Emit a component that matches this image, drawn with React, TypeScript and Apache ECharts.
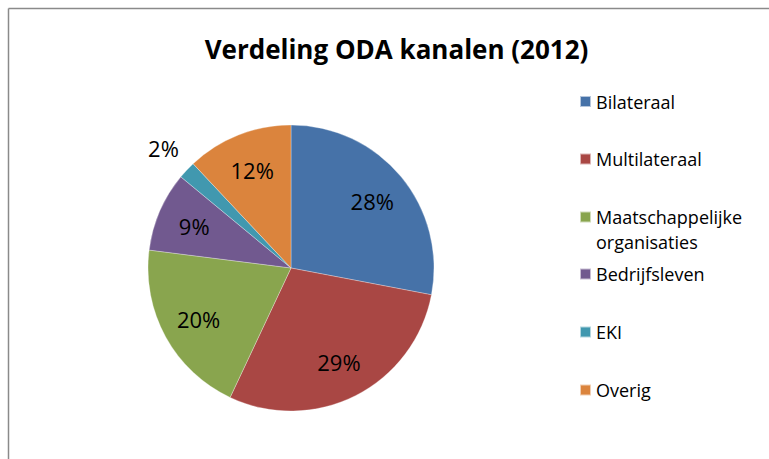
import React, { useEffect, useRef } from "react";
import * as echarts from "echarts";

const chartTitle = "Verdeling ODA kanalen (2012)";
const categories = [
  "Bilateraal",
  "Multilateraal",
  "Maatschappelijke organisaties",
  "Bedrijfsleven",
  "EKI",
  "Overig",
];
const legendLabels = [
  "Bilateraal",
  "Multilateraal",
  "Maatschappelijke\norganisaties",
  "Bedrijfsleven",
  "EKI",
  "Overig",
];
const shares = [28, 29, 20, 9, 2, 12];
const outsideLabelCategories = ["EKI"];

const FONT = "'Open Sans', 'DejaVu Sans', sans-serif";
const COLORS = ["#4672A8", "#A94744", "#89A54E", "#71598F", "#4198AF", "#DB843D"];

export default function App() {
  const ref = useRef<HTMLDivElement>(null);

  useEffect(() => {
    if (!ref.current) return;
    const chart = echarts.init(ref.current, undefined, { renderer: "svg" });

    const cx = 291;
    const cy = 268;
    const R = 143;
    const legendCenterY = [101.5, 159, 217, 274, 332, 390];
    const lineH = 25;

    const legends = categories.map((name, i) => {
      const twoLine = legendLabels[i].includes("\n");
      const text = twoLine ? "\n" + legendLabels[i] : legendLabels[i];
      const nLines = text.split("\n").length;
      const top = legendCenterY[i] - (nLines * lineH) / 2;
      return {
        orient: "vertical" as const,
        left: 579,
        top,
        padding: 0,
        itemWidth: 11,
        itemHeight: 11,
        icon: "rect",
        selectedMode: false,
        data: [{ name, itemStyle: { color: COLORS[i] } }],
        formatter: () => text,
        textStyle: {
          fontFamily: FONT,
          fontSize: 18,
          color: "#000",
          lineHeight: lineH,
        },
      };
    });

    const baseData = categories.map((name, i) => ({
      name,
      value: shares[i],
      itemStyle: { color: COLORS[i] },
    }));

    const labelStyle = {
      show: true,
      position: "inside",
      formatter: "{c}%",
      fontFamily: FONT,
      fontSize: 22,
      color: "#000",
    };

    chart.setOption({
      animation: false,
      title: {
        text: chartTitle,
        left: 391.5,
        top: 31,
        textAlign: "center",
        textStyle: {
          fontFamily: FONT,
          fontSize: 26,
          fontWeight: "bold",
          color: "#000",
        },
      },
      legend: legends,
      graphic: [
        {
          type: "line",
          shape: { x1: 8.5, y1: 8.5, x2: 769, y2: 8.5 },
          style: { stroke: "#8a8a8a", lineWidth: 1.5 },
          silent: true,
        },
        {
          type: "line",
          shape: { x1: 8.5, y1: 8.5, x2: 8.5, y2: 459 },
          style: { stroke: "#8a8a8a", lineWidth: 1.5 },
          silent: true,
        },
      ],
      series: [
        {
          type: "pie",
          center: [cx, cy],
          radius: [0, R],
          startAngle: 90,
          clockwise: true,
          label: { show: false },
          labelLine: { show: false },
          itemStyle: { borderColor: "rgba(255,255,255,0.6)", borderWidth: 0.5 },
          data: baseData,
        },
        {
          type: "pie",
          silent: true,
          center: [cx, cy],
          radius: [62, R],
          startAngle: 90,
          clockwise: true,
          labelLine: { show: false },
          itemStyle: { color: "transparent" },
          label: labelStyle,
          data: categories.map((name, i) => ({
            name,
            value: shares[i],
            itemStyle: { color: "transparent" },
            label: { show: !outsideLabelCategories.includes(name) },
          })),
        },
        {
          type: "pie",
          silent: true,
          center: [cx, cy],
          radius: [150, 194],
          startAngle: 90,
          clockwise: true,
          labelLine: { show: false },
          itemStyle: { color: "transparent" },
          label: labelStyle,
          data: categories.map((name, i) => ({
            name,
            value: shares[i],
            itemStyle: { color: "transparent" },
            label: { show: outsideLabelCategories.includes(name) },
          })),
        },
      ],
    });

    return () => chart.dispose();
  }, []);

  return (
    <div
      ref={ref}
      style={{ position: "fixed", left: 0, top: 0, width: 769, height: 459, background: "#fff" }}
    />
  );
}
